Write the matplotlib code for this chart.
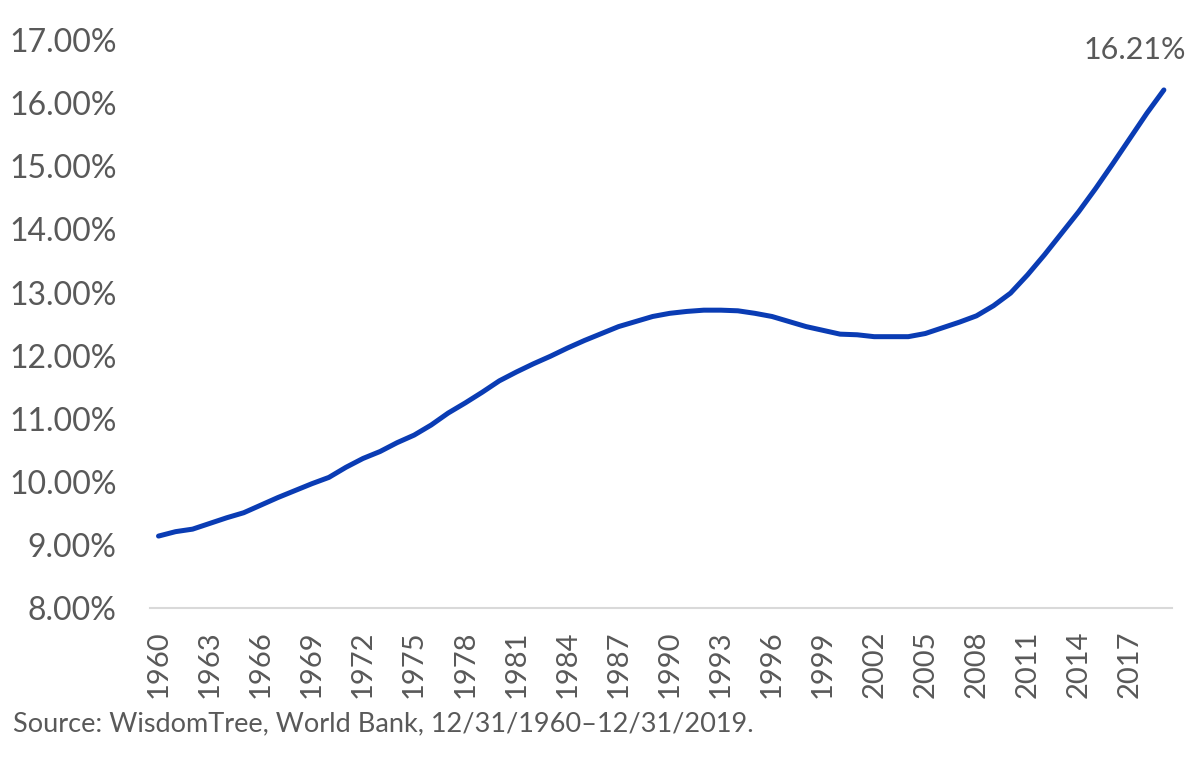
import matplotlib.pyplot as plt
from matplotlib.ticker import FuncFormatter

# --------------------- Data ---------------------
years = list(range(1960, 2020))
share = [
    9.14, 9.21, 9.25, 9.34, 9.43, 9.51, 9.63, 9.75, 9.86, 9.97,   # 1960-69
    10.07, 10.23, 10.37, 10.48, 10.62, 10.74, 10.90, 11.09, 11.25, 11.42,  # 1970-79
    11.60, 11.74, 11.87, 11.99, 12.12, 12.24, 12.35, 12.46, 12.54, 12.62,  # 1980-89
    12.67, 12.70, 12.72, 12.72, 12.71, 12.67, 12.62, 12.54, 12.46, 12.40,  # 1990-99
    12.34, 12.33, 12.30, 12.30, 12.30, 12.35, 12.44, 12.53, 12.63, 12.79,  # 2000-09
    12.99, 13.28, 13.60, 13.94, 14.28, 14.65, 15.04, 15.44, 15.84, 16.21,  # 2010-19
]
last_label = "16.21%"
source_note = "Source: WisdomTree, World Bank, 12/31/1960\u201312/31/2019."

line_color = "#0a3cb4"
text_color = "#595959"

plt.rcParams['font.family'] = ['Lato', 'DejaVu Sans']

# --------------------- Plot ---------------------
fig = plt.figure(figsize=(12, 7.71), dpi=100)
ax = fig.add_axes([0.125, 0.2114, 0.852, 0.7366])

x = list(range(len(years)))
ax.plot(x, share, color=line_color, lw=3.6, solid_capstyle='round')

ax.set_xlim(-0.5, len(years) - 0.5)
ax.set_ylim(8, 17)
ax.set_yticks(range(8, 18))
ax.yaxis.set_major_formatter(FuncFormatter(lambda v, _: f"{v:.2f}%"))

ax.set_xticks(x[::3])
ax.set_xticklabels([str(y) for y in years[::3]], rotation=90)

ax.tick_params(axis='y', length=0, pad=24, labelsize=23, labelcolor=text_color)
ax.tick_params(axis='x', length=0, pad=16, labelsize=21, labelcolor=text_color)

for side in ['top', 'right', 'left']:
    ax.spines[side].set_visible(False)
ax.spines['bottom'].set_color('#d9d9d9')
ax.spines['bottom'].set_linewidth(1.5)

# label on the last point
ax.annotate(last_label, (x[-1], share[-1]), xytext=(-21, 29),
            textcoords='offset points', ha='center', va='center',
            fontsize=22, color=text_color)

fig.text(0.011, 0.061, source_note, fontsize=19.5, color=text_color,
         ha='left', va='center')

fig.savefig("out.png", dpi=100)
